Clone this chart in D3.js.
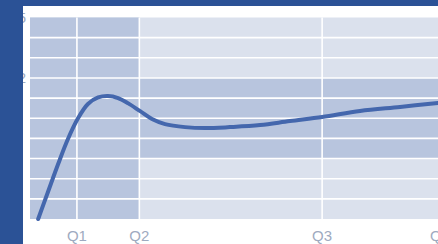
<!DOCTYPE html>
<html>
<head>
<meta charset="utf-8">
<script src="https://cdn.jsdelivr.net/npm/d3@7"></script>
<style>
  body { margin: 0; background: #fff; }
  svg { display: block; }
</style>
</head>
<body>
<svg id="chart"></svg>
<script>
// quarter ticks (x position in % of the year span) and labels
var quarterLabels = ["Q1", "Q2", "Q3", "Q4"];
var quarterPos = [11.5, 26.8, 71.6, 100.5];

// y tick labels that are shown (others are gridlines only)
var yLabels = [25, 22];
var yGrid = [15, 16, 17, 18, 19, 20, 21, 22, 23, 24, 25];

// darker band behind the curve
var bandLow = 18, bandHigh = 22;

// the curve
var curveX = [2, 4.4, 6.9, 9.3, 11.8, 14.2, 16.7, 19.1, 21.6, 24, 27, 29.9, 33.1, 38, 42.9, 49, 56.4, 63.7, 71.6, 80.9, 90.7, 100];
var curveY = [15.0, 16.34, 17.73, 18.97, 20.01, 20.71, 21.03, 21.1, 21.0, 20.75, 20.35, 19.96, 19.71, 19.56, 19.51, 19.56, 19.66, 19.86, 20.06, 20.36, 20.56, 20.76];

var width = 438, height = 244;

var svg = d3.select("#chart")
    .attr("width", width)
    .attr("height", height);

var x = d3.scaleLinear().domain([0, 100]).range([30, 438]);
var y = d3.scaleLinear().domain([15, 25]).range([219, 17.5]);

// light plot background
svg.append("rect")
    .attr("x", x(0)).attr("y", y(25))
    .attr("width", x(102) - x(0)).attr("height", y(15) - y(25))
    .attr("fill", "#dbe1ed");

// darker column up to Q2
svg.append("rect")
    .attr("x", x(0)).attr("y", y(25))
    .attr("width", x(quarterPos[1]) - x(0)).attr("height", y(15) - y(25))
    .attr("fill", "#b8c5de");

// darker horizontal band
svg.append("rect")
    .attr("x", x(0)).attr("y", y(bandHigh))
    .attr("width", x(102) - x(0)).attr("height", y(bandLow) - y(bandHigh))
    .attr("fill", "#b8c5de");

// gridlines
svg.selectAll(".hgrid")
    .data(yGrid.slice(1, -1))
    .enter()
    .append("line")
    .attr("x1", x(0)).attr("x2", x(102))
    .attr("y1", function(d){ return y(d); })
    .attr("y2", function(d){ return y(d); })
    .attr("stroke", "#ffffff")
    .attr("stroke-width", 1.6);

svg.selectAll(".vgrid")
    .data(quarterPos.slice(0, 3))
    .enter()
    .append("line")
    .attr("y1", y(25)).attr("y2", y(15))
    .attr("x1", function(d){ return x(d); })
    .attr("x2", function(d){ return x(d); })
    .attr("stroke", "#ffffff")
    .attr("stroke-width", 1.6);

// the line
var line = d3.line()
    .x(function(d){ return x(d[0]); })
    .y(function(d){ return y(d[1]); })
    .curve(d3.curveCatmullRom.alpha(0.5));

svg.append("path")
    .datum(d3.zip(curveX, curveY))
    .attr("d", line)
    .attr("fill", "none")
    .attr("stroke", "#4467ad")
    .attr("stroke-width", 4)
    .attr("stroke-linecap", "round");

// x labels
svg.selectAll(".xlab")
    .data(quarterLabels)
    .enter()
    .append("text")
    .attr("x", function(d, i){ return x(quarterPos[i]); })
    .attr("y", 241)
    .attr("text-anchor", "middle")
    .attr("font-family", "Liberation Sans, Arial, sans-serif")
    .attr("font-size", 15)
    .attr("fill", "#9eaac0")
    .text(function(d){ return d; });

// y labels (mostly hidden under the frame)
svg.selectAll(".ylab")
    .data(yLabels)
    .enter()
    .append("text")
    .attr("x", 26)
    .attr("y", function(d){ return y(d) + 5; })
    .attr("text-anchor", "end")
    .attr("font-family", "Liberation Sans, Arial, sans-serif")
    .attr("font-size", 15)
    .attr("fill", "#9eaac0")
    .text(function(d){ return d; });

// dark frame
svg.append("rect").attr("x", 0).attr("y", 0).attr("width", width).attr("height", 6).attr("fill", "#2b5296");
svg.append("rect").attr("x", 0).attr("y", 0).attr("width", 23).attr("height", height).attr("fill", "#2b5296");
</script>
</body>
</html>
